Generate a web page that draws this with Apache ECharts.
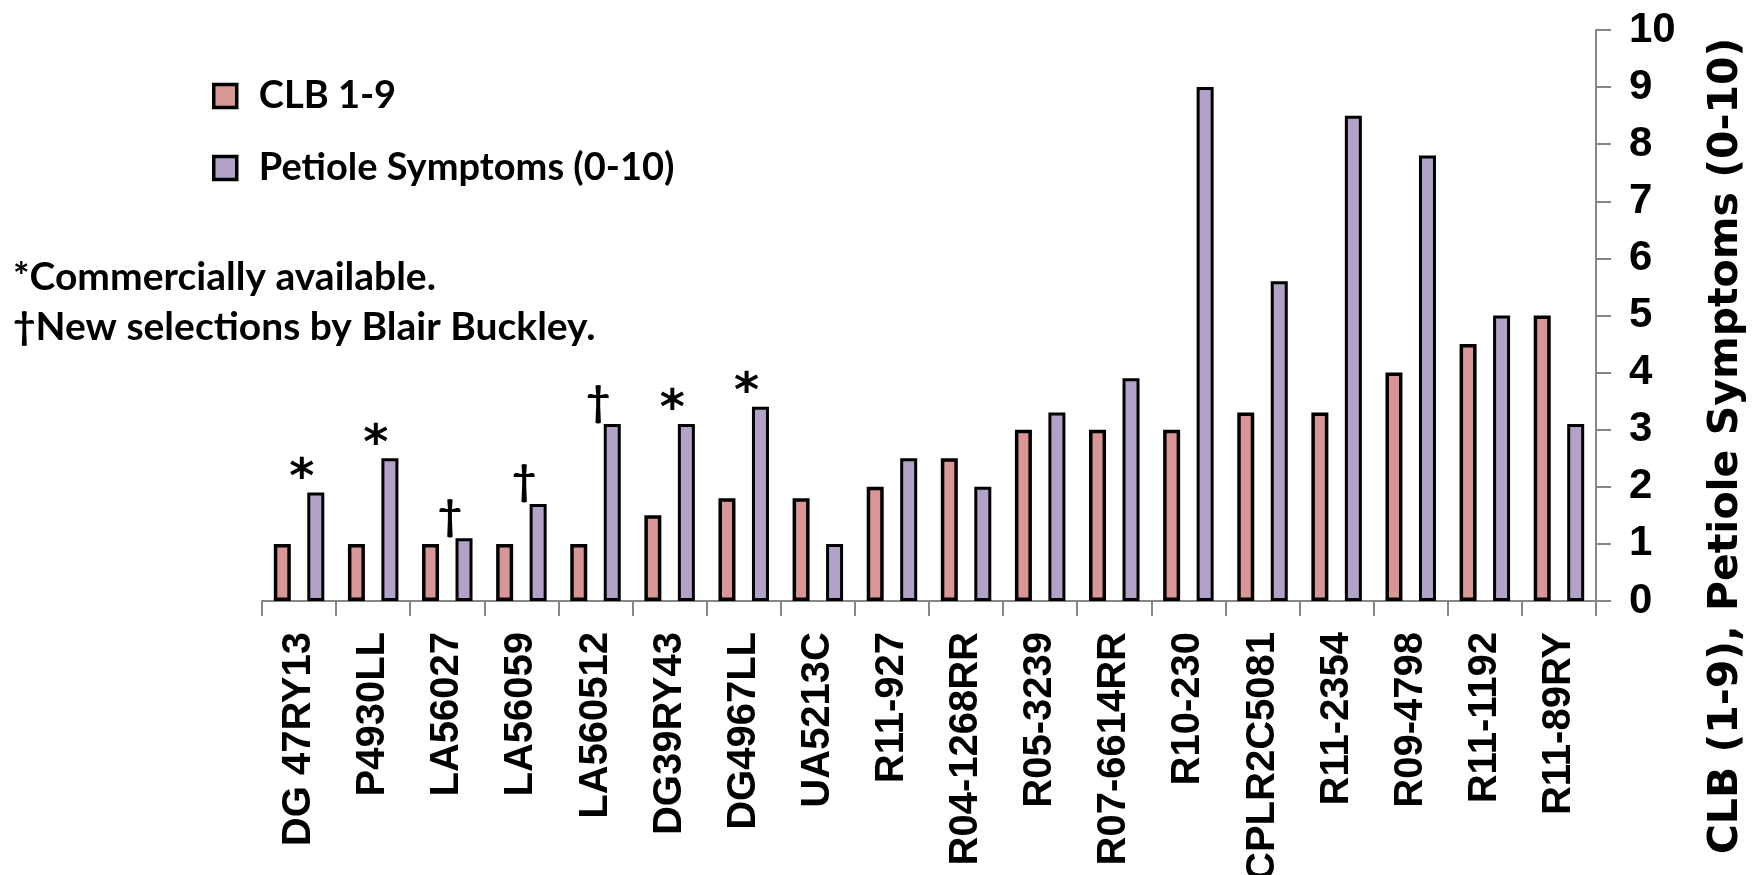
<!DOCTYPE html>
<html>
<head>
<meta charset="utf-8">
<title>CLB and petiole symptoms by line</title>
<script src="https://cdn.jsdelivr.net/npm/echarts@6/dist/echarts.min.js"></script>
<style>
  html, body { margin: 0; padding: 0; background: #fff; }
  #chart { width: 1754px; height: 875px; }
</style>
</head>
<body>
<div id="chart"></div>
<script>
// Breeding lines / cultivars
const categories = [
  'DG 47RY13', 'P4930LL', 'LA56027', 'LA56059', 'LA560512', 'DG39RY43',
  'DG4967LL', 'UA5213C', 'R11-927', 'R04-1268RR', 'R05-3239', 'R07-6614RR',
  'R10-230', 'CPLR2C5081', 'R11-2354', 'R09-4798', 'R11-1192', 'R11-89RY'
];

// CLB rating (1-9)
const clbValues = [1, 1, 1, 1, 1, 1.5, 1.8, 1.8, 2, 2.5, 3, 3, 3, 3.3, 3.3, 4, 4.5, 5];

// Petiole symptom score (0-10)
const petioleValues = [1.9, 2.5, 1.1, 1.7, 3.1, 3.1, 3.4, 1.0, 2.5, 2.0, 3.3, 3.9, 9.0, 5.6, 8.5, 7.8, 5.0, 3.1];

// Footnote marks per line: * commercially available, † new selection
const notes = ['*', '*', '†', '†', '†', '*', '*', '', '', '', '', '', '', '', '', '', '', ''];

const footnoteLines = ['*Commercially available.', '†New selections by Blair Buckley.'];

const yAxisTitle = 'CLB (1-9), Petiole Symptoms (0-10)';

const yTicks = { min: 0, max: 10, interval: 1 };

const calibriLike = 'Lato, "Open Sans", sans-serif';
const arialLike = '"Liberation Sans", Arial, sans-serif';
const wideBold = '"DejaVu Sans", sans-serif';
const axisGrey = '#868686';

const chart = echarts.init(document.getElementById('chart'));

chart.setOption({
  backgroundColor: '#ffffff',
  animation: false,
  title: {
    text: footnoteLines.join('\n'),
    left: 8,
    top: 247,
    textStyle: {
      fontFamily: calibriLike,
      fontWeight: 'bold',
      fontSize: 39,
      lineHeight: 50,
      color: '#000'
    }
  },
  legend: {
    orient: 'vertical',
    left: 207,
    top: 72,
    itemWidth: 23,
    itemHeight: 23,
    itemGap: 34,
    icon: 'rect',
    itemStyle: { borderColor: '#000', borderWidth: 3.5 },
    textStyle: {
      fontFamily: calibriLike,
      fontWeight: 'bold',
      fontSize: 38,
      color: '#000',
      padding: [0, 0, 0, 17]
    },
    data: ['CLB 1-9', 'Petiole Symptoms (0-10)']
  },
  // Vertical title for the value axis, running bottom-to-top along the right edge
  graphic: [{
    type: 'text',
    x: 1726,
    y: 446,
    rotation: Math.PI / 2,
    style: {
      text: yAxisTitle,
      fontFamily: wideBold,
      fontWeight: 'bold',
      fontSize: 41,
      fill: '#000',
      textAlign: 'center',
      textVerticalAlign: 'middle'
    }
  }],
  grid: {
    left: 262,
    right: 158,
    top: 30,
    bottom: 274,
    containLabel: false,
    outerBoundsMode: 'none'
  },
  xAxis: {
    type: 'category',
    data: categories,
    axisLine: { show: true, lineStyle: { color: axisGrey, width: 2 } },
    axisTick: { show: true, length: 15, lineStyle: { color: axisGrey, width: 2 } },
    axisLabel: {
      interval: 0,
      rotate: 90,
      margin: 31,
      fontFamily: arialLike,
      fontWeight: 'bold',
      fontSize: 40,
      color: '#000'
    }
  },
  yAxis: {
    type: 'value',
    position: 'right',
    min: yTicks.min,
    max: yTicks.max,
    interval: yTicks.interval,
    splitLine: { show: false },
    axisLine: { show: true, lineStyle: { color: axisGrey, width: 2 } },
    axisTick: { show: true, inside: false, length: 15, lineStyle: { color: axisGrey, width: 2 } },
    axisLabel: {
      margin: 33,
      fontFamily: arialLike,
      fontWeight: 'bold',
      fontSize: 42,
      color: '#000'
    }
  },
  series: [
    {
      name: 'CLB 1-9',
      type: 'bar',
      data: clbValues,
      barWidth: 17,
      barGap: '97%',
      itemStyle: { color: '#D99694', borderColor: '#000', borderWidth: 3.5 }
    },
    {
      name: 'Petiole Symptoms (0-10)',
      type: 'bar',
      data: petioleValues,
      barWidth: 17,
      barGap: '97%',
      itemStyle: { color: '#B3A2C7', borderColor: '#000', borderWidth: 3 },
      label: {
        show: true,
        position: 'top',
        distance: 2,
        offset: [-14, 0],
        formatter: p => {
          const n = notes[p.dataIndex];
          if (n === '*') return '{star|*}';
          if (n === '†') return '{dag|†}';
          return '';
        },
        rich: {
          star: {
            fontFamily: wideBold,
            fontWeight: 'bold',
            fontSize: 48,
            lineHeight: 22,
            color: '#000'
          },
          dag: {
            fontFamily: calibriLike,
            fontWeight: 'bold',
            fontSize: 42,
            lineHeight: 40,
            color: '#000'
          }
        }
      }
    }
  ]
});
</script>
</body>
</html>
